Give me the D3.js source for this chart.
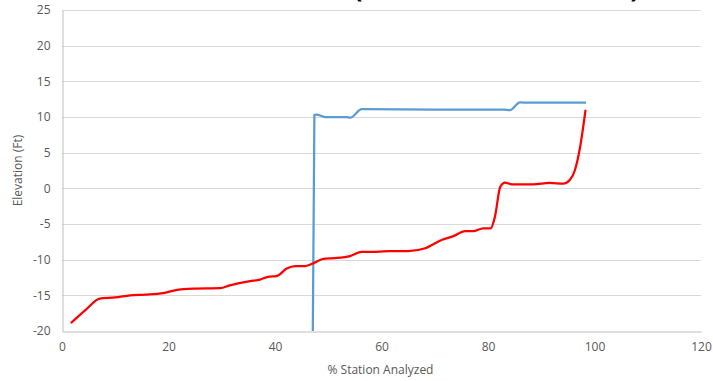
<!DOCTYPE html>
<html>
<head>
<meta charset="utf-8">
<script src="https://cdn.jsdelivr.net/npm/d3@7"></script>
<style>
  html, body { margin: 0; padding: 0; background: #fff; }
  svg { display: block; }
  text { font-family: "Open Sans", "Liberation Sans", sans-serif; }
</style>
</head>
<body>
<svg id="chart" width="713" height="381"></svg>
<script>
// ---- data ----
const xTicks = [0, 20, 40, 60, 80, 100, 120];
const yTicks = [-20, -15, -10, -5, 0, 5, 10, 15, 20, 25];
const xLabel = "% Station Analyzed";
const yLabel = "Elevation (Ft)";

const redX = [1.8, 4.5, 7.1, 10, 12.8, 15.6, 19, 21.2, 24.7, 29.7, 31.5, 35.3, 37.2, 38.7, 40.3, 42.2, 43.8, 45.6, 46.9, 49.1, 51, 54.1, 56.3, 59.1, 61.6, 65, 68.2, 71.4, 73.5, 75.7, 77.2, 79.1, 80.5, 81.3, 82.3, 83.2, 84.5, 88.5, 91.6, 94.1, 95.4, 96.3, 97.3, 98.3];
const redY = [-18.8, -17.0, -15.45, -15.3, -15.0, -14.9, -14.7, -14.3, -14.06, -14.0, -13.6, -13.0, -12.8, -12.4, -12.3, -11.25, -10.9, -10.9, -10.6, -9.9, -9.8, -9.5, -8.9, -8.9, -8.8, -8.8, -8.4, -7.2, -6.7, -6.0, -6.0, -5.6, -5.6, -4.0, 0.2, 0.8, 0.56, 0.56, 0.75, 0.65, 1.2, 2.5, 5.8, 10.9];

const blueX = [47.1, 47.4, 47.8, 49.4, 53.5, 54.1, 56.3, 57.2, 70, 82.9, 84.1, 86, 87.9, 98.4];
const blueY = [-20, 10.3, 10.35, 10.0, 10.0, 9.9, 11.1, 11.1, 11.05, 11.05, 10.95, 12.05, 12.0, 12.0];

// ---- layout ----
const svg = d3.select("#chart");
const x = d3.scaleLinear().domain([0, 120]).range([62, 701]);
const y = d3.scaleLinear().domain([-20, 25]).range([331, 10]);

// partially visible title (cut off at top, as in the reference)
svg.append("text").attr("x", 358).attr("y", -3).attr("text-anchor", "middle")
  .attr("font-size", 26).attr("font-weight", "bold").attr("fill", "#000").text("(");
svg.append("text").attr("x", 635).attr("y", -3).attr("text-anchor", "middle")
  .attr("font-size", 26).attr("font-weight", "bold").attr("fill", "#000").text(")");

// gridlines
svg.append("g").selectAll("line").data(yTicks.filter(d => d !== -20)).join("line")
  .attr("x1", x(0)).attr("x2", x(120))
  .attr("y1", d => Math.round(y(d)) + 0.5).attr("y2", d => Math.round(y(d)) + 0.5)
  .attr("stroke", "#D9D9D9").attr("stroke-width", 1);

// y axis
const yAxis = svg.append("g").attr("transform", `translate(${Math.round(x(0)) + 0.5},0)`)
  .call(d3.axisLeft(y).tickValues(yTicks).tickFormat(d => String(d)).tickSize(0).tickPadding(12));
yAxis.select(".domain").attr("stroke", "#BFBFBF");
yAxis.selectAll("text").attr("fill", "#595959").attr("font-size", 12);

// x axis
const xAxis = svg.append("g").attr("transform", `translate(0,${Math.round(y(-20)) + 0.5})`)
  .call(d3.axisBottom(x).tickValues(xTicks).tickFormat(d => String(d)).tickSize(0).tickPadding(11));
xAxis.select(".domain").attr("stroke", "#BFBFBF");
xAxis.selectAll("text").attr("fill", "#595959").attr("font-size", 12);

// axis titles
svg.append("text").attr("x", (x(0) + x(120)) / 2 - 1).attr("y", 374)
  .attr("text-anchor", "middle").attr("font-size", 12).attr("fill", "#595959").text(xLabel);
svg.append("text").attr("transform", `translate(22,${(y(-20) + y(25)) / 2}) rotate(-90)`)
  .attr("text-anchor", "middle").attr("font-size", 12).attr("fill", "#595959").text(yLabel);

// lines
const line = d3.line().x(d => x(d[0])).y(d => y(d[1])).curve(d3.curveMonotoneX);
const redData = redX.map((v, i) => [v, redY[i]]);
const blueData = blueX.map((v, i) => [v, blueY[i]]);

svg.append("path").datum(blueData).attr("d", line)
  .attr("fill", "none").attr("stroke", "#5B9BD5").attr("stroke-width", 2.25)
  .attr("stroke-linejoin", "round");
svg.append("path").datum(redData).attr("d", line)
  .attr("fill", "none").attr("stroke", "#FF0000").attr("stroke-width", 2.25)
  .attr("stroke-linejoin", "round").attr("stroke-linecap", "round");
</script>
</body>
</html>
